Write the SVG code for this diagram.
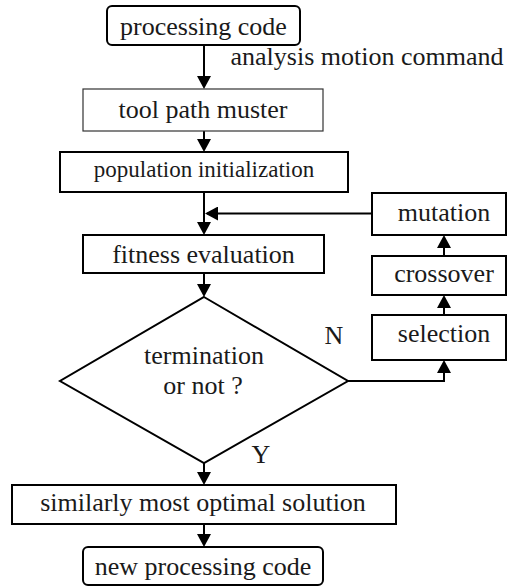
<svg xmlns="http://www.w3.org/2000/svg" width="508" height="587" viewBox="0 0 508 587">
<style>
.box{fill:#fff;stroke:#000;stroke-width:2}
.thin{fill:#fff;stroke:#333;stroke-width:1.2}
.t{font-family:"Liberation Serif","Times New Roman",serif;font-size:26px;fill:#1a1a1a;text-anchor:middle}
.s{font-size:23px}
.c{fill:none;stroke:#000;stroke-width:2}
</style>
<defs>
<marker id="ah" markerUnits="userSpaceOnUse" markerWidth="14" markerHeight="14" refX="11" refY="7" orient="auto">
<path d="M0,0 L13,7 L0,14 z" fill="#000"/>
</marker>
</defs>
<rect width="508" height="587" fill="#fff"/>
<g id="connectors">
<line class="c" x1="204" y1="45" x2="204" y2="87" marker-end="url(#ah)"/>
<line class="c" x1="204" y1="131" x2="204" y2="150" marker-end="url(#ah)"/>
<line class="c" x1="204" y1="192" x2="204" y2="233" marker-end="url(#ah)"/>
<line class="c" x1="372" y1="213.5" x2="207" y2="213.5" marker-end="url(#ah)"/>
<line class="c" x1="204" y1="273" x2="204" y2="295" marker-end="url(#ah)"/>
<line class="c" x1="204" y1="463" x2="204" y2="483" marker-end="url(#ah)"/>
<line class="c" x1="204" y1="524" x2="204" y2="545" marker-end="url(#ah)"/>
<polyline class="c" points="348,381 444,381 444,362" marker-end="url(#ah)"/>
<line class="c" x1="444" y1="315" x2="444" y2="297" marker-end="url(#ah)"/>
<line class="c" x1="444" y1="256" x2="444" y2="237" marker-end="url(#ah)"/>
<text class="t" x="367" y="65">analysis motion command</text>
<text class="t" x="334" y="344">N</text>
<text class="t" x="261" y="463">Y</text>
</g>
<g id="processing-code">
<rect class="box" x="107" y="6" width="193" height="39" rx="5"/>
<text class="t" x="203.5" y="35">processing code</text>
</g>
<g id="tool-path-muster">
<rect class="thin" x="83" y="89" width="240" height="42"/>
<text class="t" x="203" y="118">tool path muster</text>
</g>
<g id="population-initialization">
<rect class="box" x="60" y="152" width="288" height="40"/>
<text class="t s" x="204" y="177">population initialization</text>
</g>
<g id="fitness-evaluation">
<rect class="box" x="83" y="235" width="241" height="38"/>
<text class="t" x="203.5" y="263">fitness evaluation</text>
</g>
<g id="termination">
<polygon class="box" points="204,297 348,381 204,463 60,381"/>
<text class="t" x="204" y="364">termination</text>
<text class="t" x="203" y="394">or not ?</text>
</g>
<g id="mutation">
<rect class="box" x="372" y="193" width="134" height="42"/>
<text class="t" x="444" y="221">mutation</text>
</g>
<g id="crossover">
<rect class="box" x="372" y="256" width="134" height="39"/>
<text class="t" x="444" y="282">crossover</text>
</g>
<g id="selection">
<rect class="box" x="372" y="315" width="134" height="45"/>
<text class="t" x="444" y="342">selection</text>
</g>
<g id="optimal-solution">
<rect class="box" x="12" y="485" width="384" height="39"/>
<text class="t" x="203" y="511">similarly most optimal solution</text>
</g>
<g id="new-processing-code">
<rect class="box" x="83" y="547" width="240" height="38" rx="5"/>
<text class="t" x="203" y="575">new processing code</text>
</g>
</svg>
